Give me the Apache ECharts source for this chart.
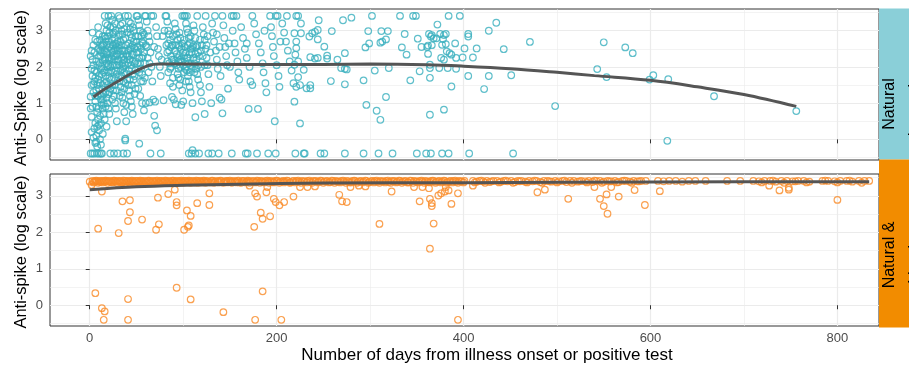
<!DOCTYPE html>
<html>
<head>
<meta charset="utf-8">
<script src="https://cdn.jsdelivr.net/npm/echarts@6/dist/echarts.min.js"></script>
<style>
  html, body { margin: 0; padding: 0; background: #fff; }
  #chart { width: 909px; height: 368px; }
</style>
</head>
<body>
<div id="chart"></div>
<script>
// axis breaks
const xMajor = [0, 200, 400, 600, 800];
const xMinor = [100, 300, 500, 700];
const yMajor = [0, 1, 2, 3];
const yMinor = [-0.5, 0.5, 1.5, 2.5, 3.5];

// Natural immunity panel: [days, log anti-spike]
const naturalPts = [
  [1,1.18],[2,2.45],[2,0.62],[3,2.2],[3,-0.39],[4,2.05],[4,1.52],[5,1.9],[5,0.3],[5,-0.39],[6,1.7],[6,1.05],[6,0.45],[7,1.35],[7,0.9],[7,-0.07],[8,2.7],[8,0.75],[8,-0.2],[3,2.95],[4,2.6],[6,1.2],[7,0.1],[2,1.5],[8,-0.39],
  [1,2.3],[1,0.85],[2,1.95],[2,0.2],[3,1.75],[3,0.9],[4,1.3],[4,0.05],[5,2.4],[5,1.6],[6,2.75],[6,-0.1],[7,2.15],[7,1.85],[8,1.5],[8,0.35],[9,2.05],[9,1.2],[9,0.85],[10,1.75],[10,-0.39],[1,-0.39],
  [9,3.1],[9,2.5],[9,1.65],[9,0.55],[10,2.9],[10,2.3],[10,1.4],[10,0.25],[11,2.75],[11,2.1],[11,1.25],[11,0.0],[12,2.6],[12,1.95],[12,1.1],[12,-0.15],[13,2.4],[13,1.8],[13,0.95],[13,-0.39],[14,2.2],[14,1.5],[14,0.85],[14,0.15],[15,2.65],[15,2.35],[15,1.0],[15,0.7],[10,0.4],[12,-0.39],[14,2.85],[11,1.55],[13,2.55],
  [11,2.45],[11,0.65],[12,2.3],[12,0.45],[13,2.0],[13,1.2],[14,2.6],[14,1.1],[15,1.85],[15,1.25],[16,2.85],[16,2.2],[17,1.75],[17,0.9],[18,2.4],[18,1.6],[19,3.15],[19,1.5],[20,2.25],[20,2.05],[21,2.2],[21,1.3],[22,3.1],[22,2.0],[23,2.25],[23,1.9],[24,2.05],[24,1.1],[25,2.6],[25,2.9],[26,2.45],[26,1.7],[27,2.5],[27,1.5],[28,2.3],[28,3.0],[29,2.05],[29,1.35],[30,2.7],[30,2.45],
  [16,3.41],[16,2.45],[16,1.55],[16,0.55],[17,3.2],[17,2.25],[17,1.3],[18,3.0],[18,2.1],[18,1.15],[18,0.35],[19,2.85],[19,2.0],[19,1.0],[20,3.41],[20,2.7],[20,1.85],[20,0.85],[21,2.55],[21,1.7],[21,0.7],[22,2.62],[22,1.4],[22,-0.39],[17,2.78],[19,2.35],[21,2.95],[16,1.9],[20,1.25],[18,2.6],
  [23,3.41],[23,2.5],[23,1.65],[24,3.3],[24,2.4],[24,1.5],[25,3.1],[25,2.3],[25,1.35],[26,2.95],[26,2.2],[26,1.2],[26,-0.39],[27,2.8],[27,2.05],[27,1.0],[28,2.65],[28,1.9],[28,0.85],[29,2.55],[29,1.8],[29,0.5],[30,2.15],[30,-0.39],[24,2.75],[27,3.2],[29,2.35],[25,1.85],
  [31,3.41],[31,2.6],[31,1.7],[32,3.35],[32,2.5],[32,1.6],[33,3.15],[33,2.35],[33,1.45],[34,3.0],[34,2.25],[34,1.3],[35,2.9],[35,2.1],[35,1.15],[36,2.75],[36,2.0],[36,1.0],[36,-0.39],[37,2.45],[37,1.85],[37,0.75],[38,2.8],[38,1.55],[38,-0.03],[38,0.02],[38,3.41],[39,2.6],[39,0.95],[39,0.5],[40,2.3],[40,-0.39],[33,2.7],[35,1.95],[37,2.2],
  [31,2.2],[31,2.9],[32,2.05],[32,1.2],[33,1.9],[34,2.6],[34,1.75],[35,2.45],[35,3.2],[36,2.3],[36,1.6],[37,3.05],[37,1.4],[38,2.05],[39,2.35],[39,1.8],[40,2.95],[40,1.65],[41,2.1],[42,2.65],[42,1.9],[43,2.5],[43,1.65],[44,3.2],[45,2.35],[45,1.5],[46,2.15],[46,3.1],[47,2.7],[48,2.1],[48,1.25],[49,2.85],[49,1.9],[50,2.4],[51,2.1],[52,2.85],[53,1.85],[54,2.6],[55,1.6],[56,2.25],[57,2.3],[58,2.9],[59,1.7],[60,2.6],
  [41,3.41],[41,2.45],[41,1.5],[42,3.25],[42,2.3],[42,1.35],[43,3.05],[43,2.2],[43,1.2],[44,2.9],[44,2.05],[44,1.05],[45,2.8],[45,1.95],[45,0.9],[46,2.6],[46,1.8],[46,0.7],[47,3.0],[47,1.65],[48,2.5],[48,1.75],[49,2.15],[49,1.4],[50,3.41],[50,2.7],[44,2.55],[47,2.35],
  [51,3.41],[51,2.55],[52,3.3],[52,2.4],[52,1.4],[53,3.15],[53,2.25],[53,-0.12],[54,3.0],[54,2.1],[54,1.2],[55,2.85],[55,1.95],[56,2.7],[56,1.8],[56,1.0],[57,2.65],[57,1.6],[58,2.4],[58,0.8],[59,3.41],[59,2.1],[60,3.41],[60,1.0],[55,2.5],[57,2.95],
  [61,3.25],[61,2.55],[62,3.0],[62,2.25],[63,2.85],[63,1.85],[64,2.7],[64,1.02],[65,2.4],[65,-0.39],[66,2.0],[66,3.41],[67,1.6],[68,3.41],[68,1.1],[69,2.55],[69,0.65],[70,1.04],[70,0.38],[64,2.1],
  [71,3.1],[72,0.25],[72,2.85],[73,2.5],[74,2.3],[75,2.0],[76,1.75],[76,-0.39],[77,2.2],[78,2.85],[79,1.08],[80,3.0],
  [81,3.41],[82,3.41],[82,2.6],[83,3.25],[83,2.15],[84,3.0],[84,1.85],[85,2.9],[85,2.45],[86,2.75],[86,1.55],[87,2.3],[87,2.0],[88,1.17],[88,2.6],[89,1.7],[89,2.85],[90,1.1],[90,2.2],
  [83,2.4],[84,2.65],[85,2.1],[86,1.95],[87,2.55],[88,2.2],[89,1.45],[91,2.1],[92,2.6],[93,2.35],[94,2.25],[95,1.7],[96,2.55],[96,2.95],[97,2.0],[98,2.15],[99,2.65],[100,2.4],[101,2.75],[101,1.85],[102,1.95],[103,2.4],[103,1.6],[104,2.25],[105,2.6],[106,2.1],[107,2.35],[107,1.85],[108,2.85],[109,1.95],[110,2.55],[111,2.6],[112,1.85],[113,2.35],[114,2.2],[115,2.6],[116,2.05],[119,2.45],[121,2.3],[123,2.05],[125,2.6],
  [91,3.2],[91,2.45],[92,3.05],[92,0.97],[93,2.9],[93,2.05],[94,2.75],[94,1.8],[95,2.6],[95,1.95],[96,2.3],[96,1.5],[97,2.2],[97,1.65],[98,0.95],[98,2.5],[99,3.41],[99,1.35],[100,2.05],[100,1.05],[95,2.15],[97,2.8],
  [101,3.41],[101,2.3],[102,3.41],[102,2.15],[103,3.2],[103,2.0],[104,3.05],[104,1.9],[104,3.41],[105,2.95],[105,1.75],[106,2.8],[106,1.6],[106,-0.39],[107,2.65],[107,1.45],[108,2.5],[108,1.3],[109,2.4],[109,-0.39],[110,1.0],[110,-0.3],[105,2.25],[108,2.05],[102,2.55],
  [111,3.15],[111,2.25],[112,3.0],[112,2.1],[113,2.8],[113,0.61],[114,2.55],[114,1.95],[115,3.41],[115,1.8],[116,2.4],[116,1.65],[117,2.3],[118,1.5],[118,2.75],[119,1.3],[119,2.0],[120,1.05],[120,2.6],[117,-0.39],[113,-0.39],
  [121,3.1],[122,2.9],[123,0.7],[123,2.75],[124,3.41],[124,2.5],[125,2.25],[126,2.05],[127,1.8],[127,-0.39],[128,1.45],[129,2.4],[130,1.0],[126,2.85],
  [131,3.2],[131,-0.39],[132,2.95],[133,2.7],[134,3.41],[135,2.45],[136,2.2],[137,1.95],[138,-0.39],[139,1.15],[139,2.55],[140,1.75],[136,2.9],
  [141,1.1],[142,3.41],[142,0.72],[143,3.15],[144,2.8],[145,2.55],[146,2.3],[147,2.05],[148,1.4],[149,2.65],[150,2.0],
  [152,3.41],[152,-0.39],[153,3.0],[154,3.41],[155,2.65],[156,2.4],[157,3.41],[158,2.15],[159,1.85],[160,1.65],
  [162,3.1],[164,2.8],[166,2.5],[167,-0.39],[168,2.25],[169,-0.39],[170,0.84],[171,2.0],[172,1.6],[174,3.41],[174,1.5],[168,2.65],
  [176,3.2],[178,2.9],[179,-0.39],[180,0.84],[181,2.65],[183,2.4],[185,2.1],[186,1.85],[188,1.55],[189,1.3],[187,3.0],
  [191,-0.39],[193,3.41],[194,3.1],[195,2.85],[196,2.55],[197,2.3],[198,0.5],[199,3.41],[199,-0.39],[200,2.05],[201,3.41],[202,1.75],[203,1.45],[204,2.7],
  [206,3.2],[208,2.95],[210,2.7],[211,3.41],[212,2.45],[214,2.15],[216,1.9],[218,1.55],[220,-0.39],[221,3.41],
  [223,3.41],[302,3.41],[332,3.41],[346,3.41],[349,3.41],[384,3.41],[396,3.41],[226,3.2],[245,3.29],[271,3.29],[280,3.36],[372,3.17],[435,3.22],
  [219,2.93],[226,2.93],[235,2.84],[238,2.93],[241,2.97],[244,3.02],[244,2.76],[259,2.99],[298,2.99],[312,2.99],[319,2.99],[337,2.91],[351,2.78],[363,2.91],[365,2.84],[368,2.79],[366,2.88],[371,2.79],[375,2.91],[379,2.88],[381,2.91],[378,2.77],[405,2.91],[405,2.84],[427,3.0],
  [221,2.7],[221,2.52],[251,2.56],[295,2.54],[299,2.65],[311,2.67],[313,2.7],[317,2.76],[334,2.54],[355,2.55],[361,2.55],[362,2.59],[366,2.6],[377,2.61],[381,2.63],[391,2.65],[401,2.51],[414,2.51],[443,2.49],[471,2.69],
  [220,2.34],[223,2.15],[236,2.27],[241,2.23],[244,2.25],[254,2.31],[254,2.23],[265,2.2],[273,2.38],[339,2.34],[362,2.36],[376,2.25],[379,2.2],[382,2.43],[385,2.38],[387,2.34],[392,2.25],[399,2.26],[410,2.26],
  [219,2.06],[229,1.92],[269,1.97],[273,1.95],[275,1.93],[305,1.9],[320,1.97],[353,1.88],[364,2.06],[364,1.97],[374,1.97],[383,1.97],[392,1.95],
  [223,1.72],[221,1.45],[225,1.5],[232,1.41],[236,1.5],[236,1.41],[258,1.61],[273,1.52],[293,1.63],[343,1.63],[364,1.7],[387,1.46],[405,1.75],[427,1.75],[451,1.77],[422,1.39],
  [219,1.04],[317,1.17],[296,0.95],[307,0.79],[311,0.54],[364,0.68],[379,0.82],[225,0.44],[498,0.92],
  [229,-0.39],[230,-0.39],[247,-0.39],[251,-0.39],[273,-0.39],[293,-0.39],[309,-0.39],[324,-0.39],[350,-0.39],[360,-0.39],[365,-0.39],[377,-0.39],[384,-0.39],[406,-0.39],[453,-0.39],
  [550,2.68],[573,2.54],[581,2.38],[543,1.94],[553,1.72],[603,1.77],[599,1.65],[619,1.66],[668,1.19],[756,0.78],[618,-0.04]
];
const naturalSmooth = [[4,1.17],[15,1.37],[28,1.57],[46,1.84],[63,2.04],[74,2.08],[100,2.08],[150,2.07],[200,2.07],[250,2.07],[300,2.08],[361,2.06],[400,2.02],[450,1.95],[500,1.85],[540,1.76],[600,1.63],[650,1.45],[700,1.24],[756,0.91]];

// Natural & vaccine panel: saturated readings near the top of the assay
const vaccineBand = [
  [3,3.41],[5,3.39],[6,3.41],[8,3.4],[10,3.41],[11,3.38],[13,3.41],[15,3.41],[16,3.39],[18,3.41],[20,3.4],[21,3.41],[23,3.38],[25,3.41],[27,3.41],[28,3.39],[30,3.41],[32,3.4],[33,3.41],[35,3.37],[37,3.41],[39,3.41],[40,3.39],[42,3.41],[44,3.4],[46,3.41],[47,3.38],[49,3.41],[51,3.41],[53,3.39],[55,3.41],[56,3.4],[58,3.41],[60,3.38],[62,3.41],[64,3.41],[65,3.39],[67,3.41],[69,3.4],[71,3.41],[73,3.37],[75,3.41],[76,3.41],[78,3.39],[80,3.41],[82,3.4],[84,3.41],[86,3.38],[88,3.41],[90,3.41],[92,3.39],[93,3.41],[95,3.4],[97,3.41],[99,3.38],[101,3.41],[103,3.41],[105,3.39],[107,3.41],[109,3.4],[111,3.41],[113,3.37],[115,3.41],[117,3.41],[119,3.39],[121,3.41],[123,3.4],[125,3.41],[127,3.38],[130,3.41],[132,3.41],[134,3.39],[137,3.41],[139,3.4],[141,3.41],[144,3.38],[146,3.41],[148,3.41],[151,3.39],[153,3.41],[156,3.4],[158,3.41],[160,3.37],[163,3.41],[165,3.41],[168,3.39],[170,3.41],[172,3.4],[175,3.41],[178,3.38],[180,3.41],[183,3.41],[185,3.39],[188,3.41],[191,3.4],[193,3.41],[196,3.38],[198,3.41],[201,3.41],[204,3.39],[207,3.41],[209,3.4],[212,3.41],[215,3.37],[218,3.41],[221,3.41],[224,3.39],[227,3.41],[230,3.4],[233,3.41],[236,3.38],[239,3.41],[242,3.41],[245,3.39],[248,3.41],[251,3.4],[254,3.41],[257,3.38],[260,3.41],[263,3.41],[266,3.39],[269,3.41],[272,3.4],[275,3.41],[278,3.37],[281,3.41],[284,3.41],[287,3.39],[290,3.41],[293,3.4],[296,3.41],[299,3.38],[302,3.41],[305,3.41],[308,3.39],[311,3.41],[314,3.4],[317,3.41],[320,3.38],[323,3.41],[326,3.41],[329,3.39],[332,3.41],[335,3.4],[338,3.41],[341,3.37],[344,3.41],[347,3.41],[350,3.39],[353,3.41],[356,3.4],[359,3.41],[362,3.38],[365,3.41],[368,3.41],[371,3.39],[374,3.41],[377,3.4],[380,3.41],[383,3.38],[386,3.41],[389,3.41],[392,3.39],[395,3.41],[398,3.4],[401,3.41],
  [4,3.37],[7,3.42],[9,3.36],[12,3.4],[14,3.37],[17,3.42],[19,3.36],[22,3.4],[24,3.37],[26,3.42],[29,3.36],[31,3.4],[34,3.37],[36,3.42],[38,3.36],[41,3.4],[43,3.37],[45,3.42],[48,3.36],[50,3.4],[52,3.37],[54,3.42],[57,3.36],[59,3.4],[61,3.37],[63,3.42],[66,3.36],[68,3.4],[70,3.37],[72,3.42],[74,3.36],[77,3.4],[79,3.37],[81,3.42],[83,3.36],[85,3.4],[87,3.37],[89,3.42],[91,3.36],[94,3.4],[96,3.37],[98,3.42],[100,3.36],[102,3.4],[104,3.37],[106,3.42],[108,3.36],[110,3.4],[112,3.37],[114,3.42],[116,3.36],[118,3.4],[120,3.37],[122,3.42],[124,3.36],[126,3.4],[129,3.37],[131,3.42],[133,3.36],[135,3.4],[138,3.37],[140,3.42],[143,3.36],[145,3.4],[147,3.37],[150,3.42],[152,3.36],[155,3.4],[157,3.37],[159,3.42],[162,3.36],[164,3.4],[167,3.37],[169,3.42],[171,3.36],[174,3.4],[177,3.37],[179,3.42],[182,3.36],[184,3.4],[187,3.37],[190,3.42],[192,3.36],[195,3.4],[197,3.37],[200,3.42],[203,3.36],[206,3.4],[208,3.37],[211,3.42],[214,3.36],[217,3.4],[220,3.37],[223,3.42],[226,3.36],[229,3.4],[232,3.37],[235,3.42],[238,3.36],[241,3.4],[244,3.37],[247,3.42],[250,3.36],[253,3.4],[256,3.37],[259,3.42],[262,3.36],[265,3.4],[268,3.37],[271,3.42],[274,3.36],[277,3.4],[280,3.37],[283,3.42],[286,3.36],[289,3.4],[292,3.37],[295,3.42],[298,3.36],[301,3.4],[304,3.37],[307,3.42],[310,3.36],[313,3.4],[316,3.37],[319,3.42],[322,3.36],[325,3.4],[328,3.37],[331,3.42],[334,3.36],[337,3.4],[340,3.37],[343,3.42],[346,3.36],[349,3.4],[352,3.37],[355,3.42],[358,3.36],[361,3.4],[364,3.37],[367,3.42],[370,3.36],[373,3.4],[376,3.37],[379,3.42],[382,3.36],[385,3.4],[388,3.37],[391,3.42],[394,3.36],[397,3.4],[400,3.37],
  [410,3.41],[414,3.39],[417,3.41],[421,3.4],[425,3.41],[428,3.38],[432,3.41],[436,3.41],[440,3.39],[443,3.41],[447,3.4],[451,3.41],[455,3.38],[458,3.41],[462,3.41],[466,3.39],[470,3.41],[474,3.4],[478,3.41],[482,3.38],[486,3.41],[490,3.41],[494,3.39],[498,3.41],[502,3.4],[506,3.41],[510,3.38],[514,3.41],[518,3.41],[522,3.39],[526,3.41],[530,3.4],[534,3.41],[538,3.38],[542,3.41],[546,3.41],[550,3.39],[554,3.41],[558,3.4],[562,3.41],[566,3.38],[570,3.41],[574,3.41],[578,3.39],[582,3.41],[586,3.4],[590,3.41],[595,3.41],
  [412,3.37],[419,3.42],[423,3.36],[430,3.4],[438,3.37],[445,3.42],[453,3.36],[460,3.4],[468,3.37],[476,3.42],[484,3.36],[492,3.4],[500,3.37],[508,3.42],[516,3.36],[524,3.4],[532,3.37],[540,3.42],[548,3.36],[556,3.4],[564,3.37],[572,3.42],[580,3.36],[588,3.4],
  [608,3.41],[614,3.4],[620,3.41],[627,3.41],[634,3.39],[641,3.41],[648,3.41],[659,3.41],[682,3.41],[696,3.41],[710,3.41],[716,3.4],[722,3.41],[728,3.41],[734,3.39],[740,3.41],[746,3.41],[752,3.4],[758,3.41],[764,3.41],[770,3.39],[784,3.41],[790,3.41],[797,3.4],[803,3.41],[810,3.41],[816,3.39],[823,3.41],[829,3.41],[834,3.41],
  [719,3.37],[731,3.42],[743,3.36],[755,3.4],[767,3.37],[787,3.42],[800,3.37],[813,3.42],[826,3.36]
];
const vaccineOther = [
  [0,3.39],[2,3.3],[13,3.12],[35,2.85],[43,2.88],[43,2.55],[41,2.31],[56,2.35],[9,2.1],[31,1.98],[73,2.95],[74,2.22],[71,2.07],[84,3.05],[91,3.17],[93,2.83],[93,2.74],[104,2.6],[108,2.45],[106,2.19],[105,2.15],[101,2.07],[115,2.8],[128,3.07],[128,2.75],
  [171,3.28],[177,3.07],[179,2.98],[183,2.54],[185,2.37],[193,2.44],[176,2.15],[189,3.1],[190,3.24],[197,2.92],[199,2.83],[203,2.74],[208,2.83],[218,2.98],[225,3.24],[233,3.24],[241,3.26],[267,3.03],[270,2.85],[275,2.83],[279,3.24],[288,3.28],[295,3.26],[310,2.23],[323,3.12],
  [347,3.24],[353,2.85],[356,3.24],[363,3.21],[364,2.92],[366,2.8],[366,2.72],[368,2.24],[364,1.55],[373,3.01],[376,3.07],[380,3.12],[384,3.15],[381,3.24],[387,2.78],[394,3.07],[410,3.28],
  [479,3.1],[487,3.17],[512,2.92],[540,3.24],[546,2.92],[550,2.72],[554,2.51],[553,3.04],[558,3.24],[566,2.98],[583,3.16],[594,2.75],[610,3.13],[738,3.15],[748,3.17],[748,3.22],[727,3.28],[800,2.89],
  [6,0.33],[41,0.17],[93,0.48],[108,0.16],[185,0.38],[13,-0.08],[16,-0.17],[15,-0.4],[41,-0.4],[143,-0.19],[177,-0.4],[205,-0.4],[394,-0.4]
];
const vaccineSmooth = [[0,3.17],[50,3.25],[100,3.29],[160,3.32],[250,3.35],[400,3.36],[600,3.38],[834,3.39]];

const X_MIN = -42.5, X_MAX = 844.5;
const Y_MIN = -0.57, Y_MAX = 3.6;
const FONT = '"Liberation Sans", Arial, sans-serif';
const gridCol = '#EBEBEB';

function mainX(gi, labels) {
  return {
    type: 'value', gridIndex: gi, min: X_MIN, max: X_MAX, position: 'bottom',
    axisLine: { show: false },
    axisTick: { show: true, length: 4, customValues: xMajor, lineStyle: { color: '#333', width: 1 } },
    axisLabel: { show: labels, customValues: xMajor, margin: 6, color: '#4D4D4D', fontSize: 13, fontFamily: FONT },
    splitLine: { show: true, lineStyle: { color: gridCol, width: 1.2 } }
  };
}
function minorX(gi) {
  return {
    type: 'value', gridIndex: gi, min: X_MIN, max: X_MAX, position: 'bottom',
    axisLine: { show: false }, axisLabel: { show: false },
    axisTick: { show: false, customValues: xMinor },
    splitLine: { show: true, lineStyle: { color: gridCol, width: 0.6 } }
  };
}
function mainY(gi) {
  return {
    type: 'value', gridIndex: gi, min: Y_MIN, max: Y_MAX, position: 'left',
    axisLine: { show: false },
    axisTick: { show: true, length: 4, customValues: yMajor, lineStyle: { color: '#333', width: 1 } },
    axisLabel: { customValues: yMajor, margin: 7, color: '#4D4D4D', fontSize: 13, fontFamily: FONT },
    splitLine: { show: true, lineStyle: { color: gridCol, width: 1.2 } }
  };
}
function minorY(gi) {
  return {
    type: 'value', gridIndex: gi, min: Y_MIN, max: Y_MAX, position: 'left',
    axisLine: { show: false }, axisLabel: { show: false },
    axisTick: { show: false, customValues: yMinor },
    splitLine: { show: true, lineStyle: { color: gridCol, width: 0.6 } }
  };
}

const teal = '#38AFBE';
const orange = '#F98A26';
function points(xi, data, color) {
  return {
    type: 'scatter', xAxisIndex: xi, yAxisIndex: xi, data: data,
    symbol: 'circle', symbolSize: 6.6, silent: true, z: 3,
    itemStyle: { color: 'rgba(0,0,0,0)', borderColor: color, borderWidth: 1.2 }
  };
}
function smoothLine(xi, data) {
  return {
    type: 'line', xAxisIndex: xi, yAxisIndex: xi, data: data,
    smooth: 0.35, showSymbol: false, silent: true, z: 5,
    lineStyle: { color: '#555555', width: 3 }
  };
}
function vText(x, y, text, size) {
  return { type: 'text', x: x, y: y, rotation: Math.PI / 2, silent: true,
    style: { text: text, fontSize: size, fontFamily: FONT, fill: '#000', textAlign: 'center', textVerticalAlign: 'middle' } };
}

const chart = echarts.init(document.getElementById('chart'), null, { renderer: 'canvas' });
chart.setOption({
  animation: false,
  backgroundColor: '#fff',
  grid: [
    { left: 50, top: 9, width: 829, height: 151, show: true, borderColor: '#333', borderWidth: 1, backgroundColor: '#fff' },
    { left: 50, top: 174, width: 829, height: 152, show: true, borderColor: '#333', borderWidth: 1, backgroundColor: '#fff' }
  ],
  xAxis: [mainX(0, false), mainX(1, true), minorX(0), minorX(1)],
  yAxis: [mainY(0), mainY(1), minorY(0), minorY(1)],
  series: [
    points(0, naturalPts, teal),
    smoothLine(0, naturalSmooth),
    points(1, vaccineBand, orange),
    points(1, vaccineOther, orange),
    smoothLine(1, vaccineSmooth)
  ],
  graphic: [
    { type: 'rect', shape: { x: 879, y: 8.5, width: 40, height: 151 }, style: { fill: '#8ACFD8' }, silent: true },
    { type: 'rect', shape: { x: 879, y: 159.5, width: 40, height: 168 }, style: { fill: '#F28C00' }, silent: true },
    vText(889.5, 104, 'Natural', 16),
    vText(916, 104, 'Immunity', 16),
    vText(889.5, 255, 'Natural &', 16),
    vText(916, 255, 'Vaccine', 16),
    vText(21, 88, 'Anti-Spike (log scale)', 16.5),
    vText(21, 252, 'Anti-spike (log scale)', 16.5),
    { type: 'text', x: 487, y: 355, silent: true,
      style: { text: 'Number of days from illness onset or positive test', fontSize: 17, fontFamily: FONT, fill: '#000', textAlign: 'center', textVerticalAlign: 'middle' } }
  ]
});
</script>
</body>
</html>
